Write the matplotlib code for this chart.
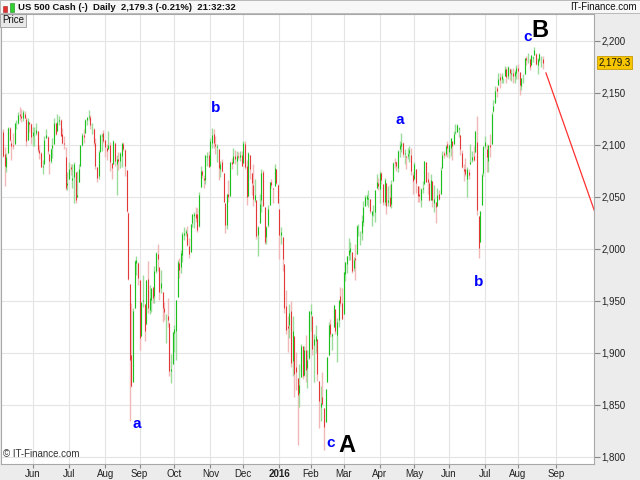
import numpy as np
import matplotlib
matplotlib.use("Agg")
import matplotlib.pyplot as plt
from matplotlib.patches import Rectangle

plt.rcParams['font.family'] = ['Liberation Sans', 'DejaVu Sans']

# daily OHLC, US 500 cash, 5 May 2015 -> 22 Aug 2016 (one row per month)
opens = [
    2112, 2091, 2079, 2092, 2116, 2102, 2100, 2101, 2122, 2121, 2130, 2128, 2126, 2130, 2125, 2105, 2122, 2120,
    2108, 2110, 2111, 2113, 2095, 2092, 2079, 2081, 2106, 2107, 2091, 2084, 2097, 2101, 2121, 2113, 2123, 2124, 2110, 2102, 2088, 2061,
    2067, 2079, 2066, 2069, 2074, 2050, 2064, 2080, 2100, 2109, 2111, 2124, 2127, 2127, 2115, 2115, 2102, 2079, 2070, 2093, 2108, 2111,
    2105, 2097, 2096, 2100, 2082, 2081, 2102, 2081, 2086, 2084, 2089, 2101, 2095, 2076, 2034, 1966, 1898, 1872, 1943, 1986, 1986,
    1970, 1916, 1950, 1947, 1928, 1971, 1941, 1951, 1963, 1955, 1979, 1995, 1982, 1962, 1958, 1943, 1933, 1935, 1929, 1882, 1889,
    1919, 1921, 1954, 1986, 1982, 1994, 2013, 2015, 2015, 2003, 1997, 2025, 2031, 2033, 2033, 2022, 2059, 2075, 2068, 2066, 2088, 2090,
    2080, 2102, 2110, 2101, 2098, 2096, 2077, 2083, 2073, 2044, 2023, 2053, 2051, 2083, 2082, 2089, 2084, 2089, 2088, 2090,
    2082, 2101, 2080, 2051, 2090, 2073, 2061, 2047, 2047, 2013, 2025, 2047, 2074, 2040, 2011, 2023, 2042, 2064, 2058, 2060, 2077, 2061,
    2038, 2013, 2011, 1985, 1945, 1926, 1927, 1940, 1892, 1916, 1886, 1876, 1861, 1877, 1906, 1879, 1903, 1885, 1895,
    1937, 1935, 1907, 1911, 1913, 1873, 1848, 1857, 1847, 1833, 1872, 1898, 1928, 1916, 1925, 1942, 1917, 1931, 1955, 1948,
    1937, 1976, 1985, 1994, 1997, 1997, 1981, 1991, 1995, 2019, 2015, 2015, 2026, 2041, 2048, 2048, 2048, 2032, 2037, 2035, 2058, 2063,
    2057, 2073, 2062, 2045, 2063, 2045, 2050, 2043, 2065, 2083, 2083, 2078, 2096, 2099, 2102, 2091, 2089, 2089, 2092, 2090, 2071,
    2067, 2077, 2060, 2053, 2047, 2057, 2062, 2083, 2067, 2063, 2047, 2065, 2044, 2045, 2041, 2053, 2053, 2078, 2092, 2091, 2101,
    2093, 2097, 2104, 2101, 2111, 2112, 2115, 2109, 2092, 2077, 2077, 2067, 2074, 2081, 2085, 2089, 2093, 2103, 2031, 2006, 2042, 2073,
    2099, 2096, 2084, 2100, 2101, 2132, 2140, 2155, 2157, 2165, 2163, 2163, 2166, 2173, 2166, 2173, 2168, 2169, 2166, 2169,
    2174, 2170, 2156, 2164, 2168, 2183, 2182, 2182, 2177, 2183, 2186, 2187, 2177, 2181, 2184, 2182,
]
highs = [
    2115, 2098, 2092, 2117, 2117, 2105, 2111, 2121, 2124, 2131, 2136, 2134, 2133, 2132, 2127, 2126, 2122, 2121,
    2117, 2117, 2121, 2113, 2100, 2093, 2085, 2108, 2115, 2108, 2091, 2097, 2106, 2126, 2121, 2130, 2128, 2125, 2116, 2108, 2098, 2074,
    2083, 2081, 2081, 2083, 2074, 2075, 2081, 2100, 2111, 2115, 2125, 2126, 2133, 2129, 2121, 2116, 2106, 2079, 2095, 2110, 2111, 2114,
    2105, 2101, 2113, 2103, 2082, 2105, 2102, 2090, 2093, 2093, 2102, 2103, 2096, 2076, 2035, 1966, 1948, 1943, 1989, 1993, 1987,
    1970, 1948, 1975, 1947, 1970, 1988, 1965, 1961, 1963, 1983, 1997, 2005, 1982, 1980, 1958, 1949, 1937, 1953, 1929, 1899, 1920,
    1927, 1951, 1989, 1991, 1999, 2016, 2021, 2019, 2022, 2010, 2024, 2033, 2035, 2040, 2039, 2055, 2080, 2076, 2071, 2090, 2093, 2094,
    2106, 2116, 2115, 2108, 2101, 2096, 2084, 2086, 2073, 2044, 2053, 2066, 2083, 2087, 2097, 2095, 2094, 2093, 2094, 2094,
    2104, 2104, 2085, 2093, 2090, 2073, 2081, 2067, 2047, 2022, 2053, 2077, 2076, 2040, 2022, 2042, 2064, 2067, 2058, 2081, 2077, 2062,
    2038, 2021, 2011, 1985, 1960, 1935, 1947, 1950, 1935, 1916, 1901, 1876, 1889, 1908, 1906, 1906, 1917, 1903, 1940,
    1947, 1935, 1918, 1927, 1913, 1873, 1868, 1881, 1847, 1865, 1896, 1930, 1932, 1919, 1946, 1942, 1933, 1951, 1963, 1962,
    1978, 1987, 1993, 2010, 2006, 1997, 1992, 2005, 2023, 2024, 2017, 2032, 2046, 2052, 2053, 2056, 2048, 2036, 2042, 2056, 2072, 2068,
    2075, 2074, 2062, 2068, 2063, 2060, 2062, 2066, 2083, 2087, 2084, 2095, 2104, 2111, 2103, 2096, 2089, 2097, 2099, 2097, 2074,
    2083, 2077, 2060, 2060, 2058, 2065, 2084, 2083, 2074, 2065, 2072, 2065, 2061, 2045, 2058, 2056, 2079, 2094, 2094, 2100, 2104,
    2101, 2106, 2104, 2113, 2120, 2120, 2117, 2109, 2095, 2081, 2087, 2079, 2077, 2101, 2094, 2099, 2113, 2128, 2031, 2036, 2073, 2098,
    2108, 2101, 2100, 2110, 2131, 2143, 2156, 2156, 2169, 2169, 2169, 2164, 2176, 2175, 2176, 2174, 2173, 2174, 2172, 2177,
    2178, 2170, 2164, 2168, 2183, 2185, 2188, 2183, 2186, 2185, 2194, 2188, 2183, 2188, 2185, 2185,
]
lows = [
    2088, 2060, 2074, 2092, 2104, 2085, 2096, 2101, 2115, 2120, 2124, 2122, 2123, 2126, 2099, 2105, 2112, 2101,
    2099, 2099, 2109, 2093, 2086, 2079, 2072, 2081, 2106, 2091, 2072, 2082, 2087, 2101, 2109, 2113, 2119, 2108, 2101, 2096, 2056, 2056,
    2067, 2071, 2058, 2044, 2044, 2050, 2064, 2080, 2099, 2102, 2111, 2119, 2124, 2115, 2110, 2099, 2077, 2064, 2067, 2094, 2094, 2102,
    2088, 2085, 2096, 2075, 2067, 2081, 2080, 2052, 2076, 2078, 2079, 2094, 2070, 2035, 1970, 1834, 1867, 1872, 1943, 1975, 1965,
    1903, 1916, 1944, 1911, 1928, 1938, 1937, 1939, 1948, 1948, 1977, 1979, 1951, 1957, 1930, 1931, 1909, 1925, 1878, 1871, 1889,
    1901, 1893, 1954, 1972, 1977, 1987, 2008, 2012, 2003, 1991, 1997, 2021, 2020, 2026, 2016, 2021, 2059, 2068, 2058, 2062, 2080, 2079,
    2080, 2097, 2097, 2091, 2083, 2066, 2069, 2074, 2045, 2015, 2019, 2045, 2051, 2077, 2082, 2081, 2071, 2086, 2084, 2080,
    2082, 2077, 2042, 2051, 2067, 2052, 2041, 2045, 2009, 1993, 2025, 2035, 2041, 2005, 2005, 2021, 2042, 2058, 2044, 2060, 2062, 2044,
    1990, 2005, 1979, 1938, 1918, 1901, 1914, 1886, 1878, 1857, 1864, 1811, 1848, 1877, 1875, 1878, 1872, 1866, 1894,
    1921, 1898, 1872, 1900, 1873, 1828, 1834, 1850, 1806, 1833, 1872, 1898, 1915, 1903, 1925, 1918, 1891, 1925, 1945, 1932,
    1937, 1969, 1977, 1989, 1989, 1977, 1979, 1970, 1995, 2012, 2004, 2008, 2022, 2041, 2042, 2040, 2034, 2022, 2031, 2026, 2058, 2056,
    2044, 2062, 2042, 2042, 2033, 2041, 2040, 2039, 2065, 2078, 2075, 2074, 2088, 2093, 2088, 2081, 2077, 2086, 2083, 2071, 2053,
    2067, 2054, 2045, 2045, 2040, 2054, 2062, 2064, 2053, 2046, 2047, 2040, 2035, 2025, 2041, 2047, 2053, 2078, 2087, 2089, 2088,
    2087, 2089, 2085, 2101, 2110, 2112, 2107, 2090, 2078, 2065, 2070, 2050, 2067, 2081, 2083, 2084, 2093, 2032, 1991, 2006, 2042, 2070,
    2097, 2074, 2074, 2088, 2101, 2131, 2140, 2146, 2157, 2155, 2159, 2159, 2166, 2159, 2163, 2162, 2161, 2159, 2159, 2163,
    2163, 2148, 2153, 2159, 2168, 2177, 2179, 2172, 2177, 2180, 2186, 2177, 2168, 2180, 2175, 2173,
]
closes = [
    2089, 2080, 2088, 2116, 2105, 2099, 2099, 2121, 2122, 2129, 2128, 2126, 2131, 2126, 2104, 2123, 2120, 2107,
    2112, 2110, 2114, 2095, 2092, 2079, 2080, 2105, 2109, 2094, 2084, 2096, 2100, 2121, 2110, 2122, 2124, 2108, 2102, 2101, 2058, 2063,
    2077, 2077, 2068, 2081, 2047, 2052, 2077, 2100, 2109, 2107, 2124, 2127, 2128, 2119, 2115, 2102, 2080, 2068, 2093, 2109, 2109, 2104,
    2098, 2094, 2100, 2083, 2078, 2104, 2084, 2086, 2084, 2092, 2102, 2096, 2080, 2036, 1971, 1893, 1868, 1940, 1988, 1989, 1972,
    1914, 1949, 1951, 1921, 1970, 1943, 1953, 1962, 1953, 1979, 1996, 1990, 1958, 1967, 1943, 1939, 1933, 1931, 1882, 1884, 1920,
    1923, 1951, 1987, 1980, 1996, 2014, 2015, 2017, 2004, 1995, 2024, 2033, 2033, 2030, 2018, 2052, 2075, 2071, 2066, 2090, 2089, 2079,
    2104, 2109, 2102, 2099, 2099, 2078, 2081, 2075, 2045, 2023, 2053, 2050, 2083, 2081, 2089, 2086, 2089, 2088, 2090, 2080,
    2102, 2079, 2050, 2092, 2077, 2063, 2048, 2052, 2012, 2021, 2043, 2073, 2041, 2006, 2021, 2038, 2064, 2061, 2057, 2078, 2063, 2044,
    2013, 2016, 1990, 1943, 1922, 1924, 1938, 1890, 1921, 1880, 1881, 1859, 1869, 1906, 1878, 1903, 1883, 1893, 1940,
    1940, 1904, 1913, 1916, 1880, 1854, 1852, 1851, 1829, 1865, 1896, 1927, 1918, 1918, 1946, 1921, 1930, 1951, 1948, 1932,
    1978, 1987, 1993, 1999, 2001, 1979, 1989, 1989, 2022, 2019, 2015, 2027, 2040, 2050, 2051, 2049, 2036, 2036, 2037, 2056, 2064, 2060,
    2073, 2066, 2045, 2066, 2041, 2047, 2041, 2062, 2082, 2082, 2080, 2094, 2100, 2102, 2091, 2092, 2088, 2091, 2095, 2075, 2065,
    2081, 2063, 2051, 2051, 2057, 2058, 2084, 2064, 2064, 2047, 2066, 2047, 2048, 2040, 2052, 2048, 2076, 2090, 2090, 2099, 2097,
    2100, 2106, 2099, 2110, 2112, 2119, 2116, 2096, 2079, 2075, 2072, 2077, 2071, 2083, 2088, 2085, 2113, 2037, 2001, 2036, 2071, 2099,
    2103, 2088, 2100, 2098, 2130, 2137, 2152, 2152, 2163, 2162, 2166, 2163, 2173, 2165, 2175, 2169, 2169, 2166, 2170, 2174,
    2171, 2157, 2164, 2164, 2183, 2181, 2182, 2175, 2186, 2184, 2191, 2178, 2182, 2187, 2184, 2179,
]

# trading days per month (May 2015 starts on the 5th), for the month ticks
month_days = [18, 22, 22, 21, 21, 22, 20, 22, 19, 20, 22, 21, 21, 22, 20, 23]
month_labels = ['Jun', 'Jul', 'Aug', 'Sep', 'Oct', 'Nov', 'Dec', '2016',
                'Feb', 'Mar', 'Apr', 'May', 'Jun', 'Jul', 'Aug', 'Sep']

# projection line after the top (bar index, price)
proj_x = [330, 362]
proj_y = [2169, 2025]

# wave labels: (text, bar index, price)
wave_small = [('a', 81.4, 1831), ('b', 129.4, 2135), ('c', 199.3, 1813),
              ('a', 241.3, 2124), ('b', 289.3, 1968), ('c', 319.0, 2204)]
wave_big = [('A', 208.9, 1811), ('B', 326.5, 2210)]

last_price = 2179.3

o = np.array(opens)
h = np.array(highs)
l = np.array(lows)
c = np.array(closes)
x = np.arange(len(c))
up = c >= o

fig = plt.figure(figsize=(6.4, 4.8), dpi=100, facecolor='#ececec')
ax = fig.add_axes([1/640, 16/480, 593/640, 450/480])
ax.set_facecolor('white')

# header strip
fig.patches.append(Rectangle((0, 1 - 13/480), 1, 13/480, transform=fig.transFigure,
                             facecolor='#f7f7f7', edgecolor='#b0b0b0', lw=0.6))
fig.patches.append(Rectangle((3/640, 1 - 12/480), 4/640, 6/480, transform=fig.transFigure,
                             facecolor='#e03030', edgecolor='#a02020', lw=0.4))
fig.patches.append(Rectangle((10/640, 1 - 12/480), 4/640, 9/480, transform=fig.transFigure,
                             facecolor='#30d030', edgecolor='#208020', lw=0.4))
fig.text(18/640, 1 - 7/480, 'US 500 Cash (-)  Daily  2,179.3 (-0.21%)  21:32:32',
         fontsize=6.8, fontweight='bold', color='#111111', va='center', ha='left')
fig.text(637/640, 1 - 7/480, 'IT-Finance.com', fontsize=7, color='#111111',
         va='center', ha='right')

# candles: pale wick, strong body
wick_cols = np.where(up, '#9adc9a', '#f2b8b8')
body_cols = np.where(up, '#18c018', '#e23434')
ax.vlines(x, l, h, colors=wick_cols, lw=1.0)
ax.vlines(x, o, c, colors=body_cols, lw=0.7)

ax.plot(proj_x, proj_y, color='#ff3030', lw=0.9)

for txt, xi, yi in wave_small:
    ax.text(xi, yi, txt, color='#0000ff', fontsize=11, fontweight='bold',
            ha='center', va='center')
for txt, xi, yi in wave_big:
    ax.text(xi, yi, txt, color='black', fontsize=17, fontweight='bold',
            ha='center', va='center')

ax.set_xlim(-1.3, 359.2)
ax.set_ylim(1793, 2225.7)

month_pos = np.cumsum(month_days)
ax.set_xticks(month_pos)
ax.set_xticklabels(month_labels)
ax.get_xticklabels()[7].set_fontweight('bold')
ax.get_xticklabels()[7].set_fontsize(8)

yt = np.arange(1800, 2201, 50)
ax.set_yticks(yt)
ax.set_yticklabels(['{:,.0f}'.format(v) for v in yt])
ax.yaxis.tick_right()

ax.tick_params(axis='x', length=3, pad=0.5, labelsize=7, color='#888888', labelcolor='#222222')
ax.tick_params(axis='y', length=4, pad=1.2, labelsize=7, color='#888888', labelcolor='#222222')
ax.grid(True, color='#e4e4e4', lw=0.8)
ax.set_axisbelow(True)
for s in ax.spines.values():
    s.set_color('#a8a8a8')
    s.set_linewidth(0.8)

ax.text(0.002, 0.997, 'Price', transform=ax.transAxes, va='top', ha='left', fontsize=7,
        color='#111111',
        bbox=dict(boxstyle='square,pad=0.18', fc='#e8e8e8', ec='#9a9a9a', lw=0.6))
ax.text(0.004, 0.012, '\u00a9 IT-Finance.com', transform=ax.transAxes, va='bottom', ha='left',
        fontsize=7, color='#333333')
ax.text(1.007, last_price, '2,179.3', transform=ax.get_yaxis_transform(), va='center',
        ha='left', fontsize=7, color='#111111', clip_on=False,
        bbox=dict(boxstyle='square,pad=0.15', fc='#f7c600', ec='#c79a00', lw=0.6))

fig.savefig('out.png', dpi=100, facecolor=fig.get_facecolor())
